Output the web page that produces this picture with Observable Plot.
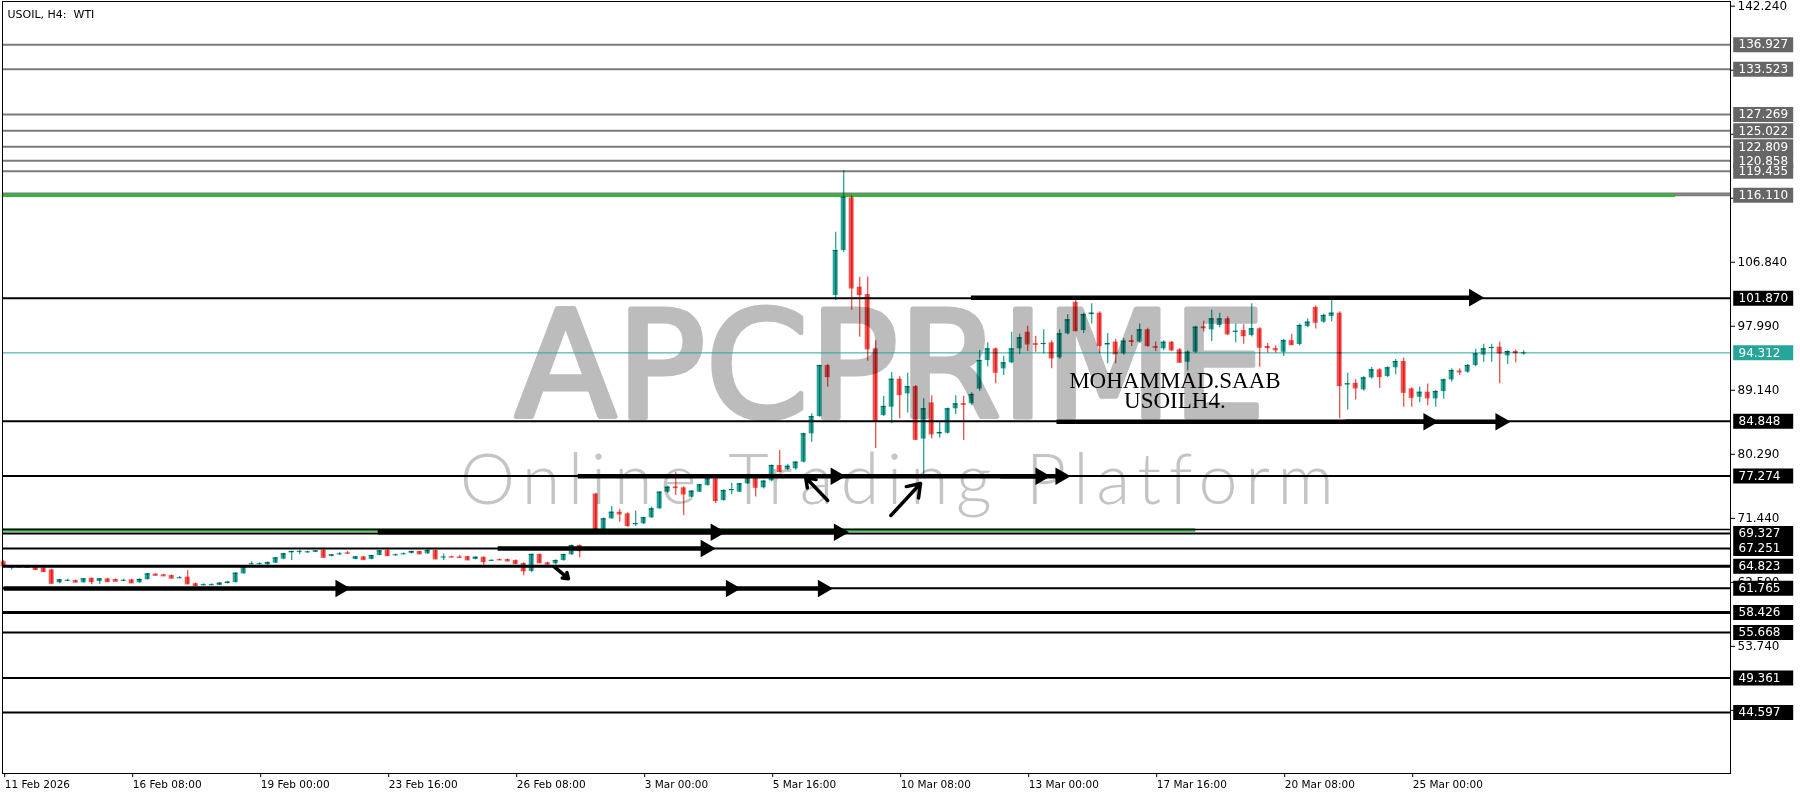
<!DOCTYPE html>
<html><head><meta charset="utf-8">
<script src="https://cdn.jsdelivr.net/npm/d3@7"></script>
<script src="https://cdn.jsdelivr.net/npm/@observablehq/plot@0.6"></script>
<style>html,body{margin:0;padding:0;background:#fff}svg{display:block}</style>
</head><body><div id="chart"></div>
<script>
// ---- candle data (H4 bars, index 0 = 11 Feb 16:00) ----
const opens = [65.4,64.65,64.7,64.72,64.68,64.55,64.3,62.52,62.84,62.84,62.52,63.15,62.7,63.07,62.98,62.84,62.93,62.52,62.95,63.72,63.63,63.53,63.2,63.3,62.4,62.2,62.22,62.15,62.43,62.55,63.76,65.1,65.12,65.0,65.23,65.8,66.67,66.82,66.76,66.76,67.03,66.2,66.48,66.67,65.74,66.1,65.74,66.29,66.98,66.36,66.5,66.57,66.85,66.53,66.99,66.04,66.12,66.08,66.15,65.74,66.06,65.58,65.74,65.74,65.6,65.2,64.1,66.45,65.3,65.15,65.6,66.4,67.68,66.98,74.8,69.8,71.37,72.28,72.06,70.6,70.68,71.51,72.75,75.05,75.78,75.65,74.36,75.05,75.97,76.9,73.9,75.3,75.05,76.21,77.04,75.65,76.62,78.74,78.2,78.28,79.2,83.12,85.5,92.56,102.24,108.46,115.75,103.39,102.38,94.87,85.65,86.8,90.67,88.65,89.65,82.4,87.4,83.1,83.2,86.58,87.3,87.27,89.3,93.26,94.87,92.1,92.94,94.87,97.17,95.6,95.5,95.7,93.63,96.95,101.3,97.4,99.6,99.8,95.4,95.8,94.18,96.0,95.8,97.5,95.2,94.87,95.78,94.74,93.02,94.4,97.9,97.5,98.1,99.02,97.2,97.4,96.7,97.64,95.2,94.9,94.4,96.0,95.47,97.95,100.6,98.56,99.33,99.8,89.9,90.1,89.2,90.86,91.97,91.04,92.25,93.12,89.34,88.18,88.87,87.95,88.96,90.58,91.8,91.64,92.56,94.0,94.95,95.1,93.9,94.5,94.28];
const highs = [65.6,64.9,64.8,64.8,64.85,64.7,64.4,63.0,63.0,62.9,63.1,63.2,63.1,63.15,63.05,63.0,63.0,63.1,63.8,63.78,63.7,63.6,63.4,64.22,62.5,62.4,62.4,62.55,62.7,63.9,64.75,65.45,65.3,65.4,66.0,66.6,66.9,67.0,66.9,67.0,67.1,66.45,66.7,66.85,66.2,66.2,66.35,67.0,67.2,66.5,66.65,66.9,66.9,67.2,67.05,66.5,66.2,66.3,66.2,66.1,66.1,65.7,65.8,65.8,65.7,65.3,66.5,66.5,65.35,65.7,66.5,67.75,67.75,67.3,74.9,71.5,73.07,72.7,72.2,72.4,71.6,73.0,75.1,75.9,77.81,75.8,75.3,76.1,77.0,77.0,75.4,76.3,76.3,77.2,77.1,76.7,78.8,80.81,78.9,79.3,83.2,85.9,92.6,92.7,111.0,119.5,116.0,104.77,104.8,96.0,88.3,91.6,91.0,91.5,89.8,87.96,88.4,84.7,86.7,88.4,88.3,88.8,94.64,95.7,95.0,93.8,97.17,96.9,98.0,96.6,97.5,96.0,97.5,99.6,101.6,99.8,101.1,100.0,97.0,96.2,96.3,96.7,98.3,97.7,95.8,96.0,95.9,94.9,94.6,98.0,98.7,100.2,99.8,99.3,98.3,98.2,101.1,97.8,95.6,95.3,96.2,96.9,98.3,99.0,100.8,99.7,102.0,100.0,91.5,90.6,91.0,92.3,92.1,92.4,93.4,93.6,89.5,89.6,90.0,89.1,90.7,92.1,92.1,92.7,94.8,95.5,95.5,95.8,94.6,94.7,94.6];
const lows = [64.8,64.3,64.6,64.6,64.3,63.95,62.4,62.4,62.7,62.55,62.5,62.24,62.3,62.6,62.7,62.7,62.45,62.45,62.9,63.5,63.45,63.1,63.1,62.3,62.0,62.1,62.1,62.1,62.35,62.5,63.7,65.0,65.0,64.95,65.2,65.7,65.6,66.4,66.6,66.7,66.0,66.1,66.3,66.5,65.7,65.7,65.7,66.25,66.2,66.2,66.4,66.5,66.45,66.45,65.75,65.6,66.0,65.95,65.6,65.7,64.95,65.5,65.6,65.5,65.1,63.5,63.9,65.2,65.0,65.0,65.5,66.3,66.0,66.9,69.7,69.7,71.3,70.9,70.2,70.3,70.6,71.4,72.7,74.9,74.59,71.8,74.2,75.0,75.9,73.5,73.8,74.7,75.0,76.1,74.4,75.5,76.5,77.8,78.0,78.1,79.1,81.96,85.4,89.56,101.55,108.2,100.2,96.48,93.14,81.1,85.5,84.5,85.2,86.0,82.2,77.35,82.4,82.5,83.1,85.8,82.2,87.0,89.0,92.4,90.03,91.2,92.8,94.1,94.5,94.4,94.2,92.1,93.4,96.8,97.2,97.0,98.3,94.2,92.8,92.8,94.0,95.2,95.6,95.1,94.5,94.6,94.5,92.9,91.8,94.2,97.2,95.9,97.8,96.7,95.7,95.5,96.5,92.33,94.3,94.3,93.8,95.3,95.3,97.8,97.6,98.4,98.6,85.2,86.4,87.8,89.0,90.7,89.4,90.9,91.3,86.8,86.8,87.4,87.0,86.8,87.9,90.3,91.2,91.5,92.4,93.0,93.0,90.03,92.7,92.9,94.0];
const closes = [64.9,64.7,64.72,64.65,64.36,64.08,62.46,62.93,62.86,62.62,63.07,62.7,63.07,62.7,62.75,62.86,62.52,62.98,63.76,63.57,63.49,63.17,63.22,62.38,62.15,62.25,62.26,62.47,62.61,63.85,64.68,65.14,65.16,65.33,65.97,66.53,66.85,66.86,66.8,66.94,66.06,66.38,66.52,66.62,66.1,65.74,66.29,66.94,66.29,66.4,66.53,66.85,66.53,66.99,65.83,66.08,66.08,66.04,65.7,66.06,65.46,65.62,65.7,65.55,65.19,64.2,66.45,65.3,65.1,65.6,66.43,67.68,66.98,67.2,69.8,71.37,72.28,72.06,70.44,70.7,71.51,72.75,75.05,75.74,75.7,74.82,75.19,76.07,76.9,73.9,75.28,75.4,76.21,77.04,75.74,76.57,78.74,77.91,78.64,79.2,83.12,85.5,92.56,91.04,108.46,115.83,103.3,102.38,94.87,85.0,86.9,90.67,88.56,89.65,82.37,86.58,83.12,83.3,86.58,87.27,87.2,88.56,93.26,94.87,91.64,92.94,94.87,96.4,95.56,95.5,95.6,93.63,96.95,98.88,97.4,99.6,99.8,95.33,95.6,94.18,95.93,95.9,97.5,95.33,95.1,95.78,94.74,93.02,94.4,97.86,97.8,99.02,99.0,96.95,97.3,96.7,97.64,95.1,95.05,94.75,96.0,95.47,98.1,98.56,98.56,99.48,99.8,89.8,90.03,89.48,90.86,91.97,91.04,92.25,93.12,88.87,88.18,88.87,88.1,88.96,90.58,91.87,91.7,92.56,94.18,94.87,95.05,94.3,94.5,94.35,94.31];

// ---- axis ticks ----
const xTickIndex = [0,16,32,48,64,80,96,112,128,144,160,176];
const xTickLabels = ["11 Feb 2026","16 Feb 08:00","19 Feb 00:00","23 Feb 16:00","26 Feb 08:00","3 Mar 00:00","5 Mar 16:00","10 Mar 08:00","13 Mar 00:00","17 Mar 16:00","20 Mar 08:00","25 Mar 00:00"];
const yTicks = [142.24,133.39,124.54,115.69,106.84,97.99,89.14,80.29,71.44,62.59,53.74,44.89];

// ---- horizontal levels ----
const grayLevels = [136.927,133.523,127.269,125.022,122.809,120.858,119.435,116.110];
const blackLevels = [101.870,84.848,77.274,69.327,67.251,64.823,61.765,58.426,55.668,49.361,44.597];
const thickLevels = [64.823,58.426];
const extraGrayLines = [116.33];
const extraBlackLines = [69.9];
const greenLevels = [116.11, 69.82];
const greenEnds = [209, 149];
const currentPrice = 94.312;

// ---- drawn arrows (bar index, price) ----
const hArrowX1 = [120.9, 131.6, 167.7, 71.75, 104, 124.6, 46.75, 89, 61.75, 0, 42.1, 90.9];
const hArrowX2 = [183.8, 178.1, 187.1, 104, 129.6, 132.1, 89, 104.4, 87.75, 42.1, 90.9, 102.4];
const hArrowY  = [101.95, 84.78, 84.8, 77.25, 77.25, 77.25, 69.52, 69.52, 67.25, 61.74, 61.74, 61.74];
const dArrowX1 = [103.0, 110.9, 68.8];
const dArrowY1 = [73.9, 71.83, 64.77];
const dArrowX2 = [100.25, 114.6, 70.6];
const dArrowY2 = [77.08, 76.25, 63.1];

const authorLines = ["MOHAMMAD.SAAB", "USOILH4."];
const authorX = 146.4;
const authorY = [90.5, 87.75];

// ---- build tables ----
const candles = opens.map((o, i) => ({i, o, h: highs[i], l: lows[i], c: closes[i]}));
const up = "#26a69a", down = "#ef5350";
const col = d => d.c >= d.o ? up : down;
const hArrows = hArrowX1.map((x1, k) => ({x1, x2: hArrowX2[k], y: hArrowY[k]}));
const dArrows = dArrowX1.map((x1, k) => ({x1, y1: dArrowY1[k], x2: dArrowX2[k], y2: dArrowY2[k]}));
const levels = [
  ...grayLevels.map(v => ({v, fill: "#666666"})),
  ...blackLevels.map(v => ({v, fill: "#000000"})),
  {v: currentPrice, fill: up}
].sort((a, b) => a.v - b.v);
const greens = greenLevels.map((v, k) => ({v, end: greenEnds[k]}));
const tickLabel = new Map(xTickIndex.map((d, k) => [d, xTickLabels[k]]));

const W = 1800, H = 800;
const mL = 2, mR = 70, mT = 1, mB = 27;
const xDomain = [-0.15, -0.15 + (W - mL - mR) / 8];
const yDomain = [36.16, 142.89];
const xMax = xDomain[1];
const font = "DejaVu Sans";
const tagline = "Online Trading Platform";

const chart = Plot.plot({
  width: W, height: H,
  marginLeft: mL, marginRight: mR, marginTop: mT, marginBottom: mB,
  x: {domain: xDomain},
  y: {domain: yDomain},
  style: {fontFamily: font, background: "#fff", overflow: "visible"},
  marks: [
    // watermark
    Plot.text(["APCPRIME"], {frameAnchor: "top-left", dx: 888, dy: 368, textAnchor: "middle", lineAnchor: "middle",
      fontSize: 148, fill: "#bcbcbc", stroke: "#bcbcbc", strokeWidth: 5, fontFamily: "DejaVu Sans"}),
    Plot.text([tagline], {frameAnchor: "top-left", dx: 898, dy: 480, textAnchor: "middle", lineAnchor: "middle",
      fontSize: 70, fill: "#c4c4c4", fontFamily: "Lato", fontWeight: 300}),
    // level lines
    Plot.ruleY(grayLevels, {stroke: "#7a7a7a", strokeWidth: 2}),
    Plot.ruleY(extraGrayLines, {stroke: "#7a7a7a", strokeWidth: 2}),
    Plot.ruleY(greens, {y: "v", x1: xDomain[0], x2: "end", stroke: "#3cb043", strokeWidth: 3.5}),
    Plot.ruleY(blackLevels.filter(v => !thickLevels.includes(v)), {stroke: "#000", strokeWidth: 2}),
    Plot.ruleY(thickLevels, {stroke: "#000", strokeWidth: 3}),
    Plot.ruleY(extraBlackLines, {stroke: "#000", strokeWidth: 1.5}),
    Plot.ruleY([currentPrice], {stroke: up, strokeWidth: 1}),
    // arrows
    Plot.link(hArrows, {x1: "x1", x2: "x2", y1: "y", y2: "y", stroke: "#000", strokeWidth: 4.5}),
    Plot.dot(hArrows, {x: "x2", y: "y", symbol: "triangle", r: 6.5, fill: "#000", rotate: 90}),
    Plot.arrow(dArrows, {x1: "x1", y1: "y1", x2: "x2", y2: "y2", stroke: "#000", strokeWidth: 3.5, headLength: 11, headAngle: 70}),
    // candles
    Plot.ruleX(candles, {x: "i", y1: "l", y2: "h", stroke: col, strokeWidth: 1.3, mixBlendMode: "multiply"}),
    Plot.rect(candles, {x1: d => d.i - 0.31, x2: d => d.i + 0.31, y1: d => Math.min(d.o, d.c), y2: d => Math.max(d.o, d.c), fill: col, mixBlendMode: "multiply"}),
    Plot.ruleY(candles, {y: "c", x1: d => d.i - 0.31, x2: d => d.i + 0.31, stroke: col, strokeWidth: 1.2, mixBlendMode: "multiply"}),
    // author text
    Plot.text(authorLines, {x: () => authorX, y: (d, k) => authorY[k], text: d => d, textAnchor: "middle", lineAnchor: "middle",
      fontFamily: "Liberation Serif", fontSize: 23, fill: "#000"}),
    // frame & axes
    Plot.frame({stroke: "#000", strokeWidth: 1}),
    Plot.axisX({ticks: xTickIndex, tickFormat: d => tickLabel.get(d), tickSize: 4, tickPadding: 3, textAnchor: "start", dx: 1,
      fontSize: 10.5, fontFamily: font, fill: "#000"}),
    Plot.axisY({anchor: "right", ticks: yTicks, tickFormat: d => d.toFixed(3), tickSize: 4, tickPadding: 3,
      fontSize: 12, fontFamily: font, fill: "#000"}),
    // level labels on the right axis
    Plot.ruleY(levels, {y: "v", x1: xMax + 0.4, x2: xMax + 7.9, stroke: "fill", strokeWidth: 15}),
    Plot.text(levels, {x: xMax, y: "v", dx: 8, text: d => d.v.toFixed(3), fill: "#fff", textAnchor: "start", fontSize: 12, fontFamily: font}),
    // title
    Plot.text(["USOIL, H4:  WTI"], {frameAnchor: "top-left", dx: 5, dy: 13, textAnchor: "start", lineAnchor: "middle", fontSize: 11, fontFamily: font, fill: "#000"})
  ]
});
// widen the tagline's letter spacing like the logo
d3.select(chart).selectAll("text").filter(function() { return this.textContent === tagline; })
  .style("letter-spacing", "7.5px");
document.getElementById("chart").appendChild(chart);
</script>
</body></html>
